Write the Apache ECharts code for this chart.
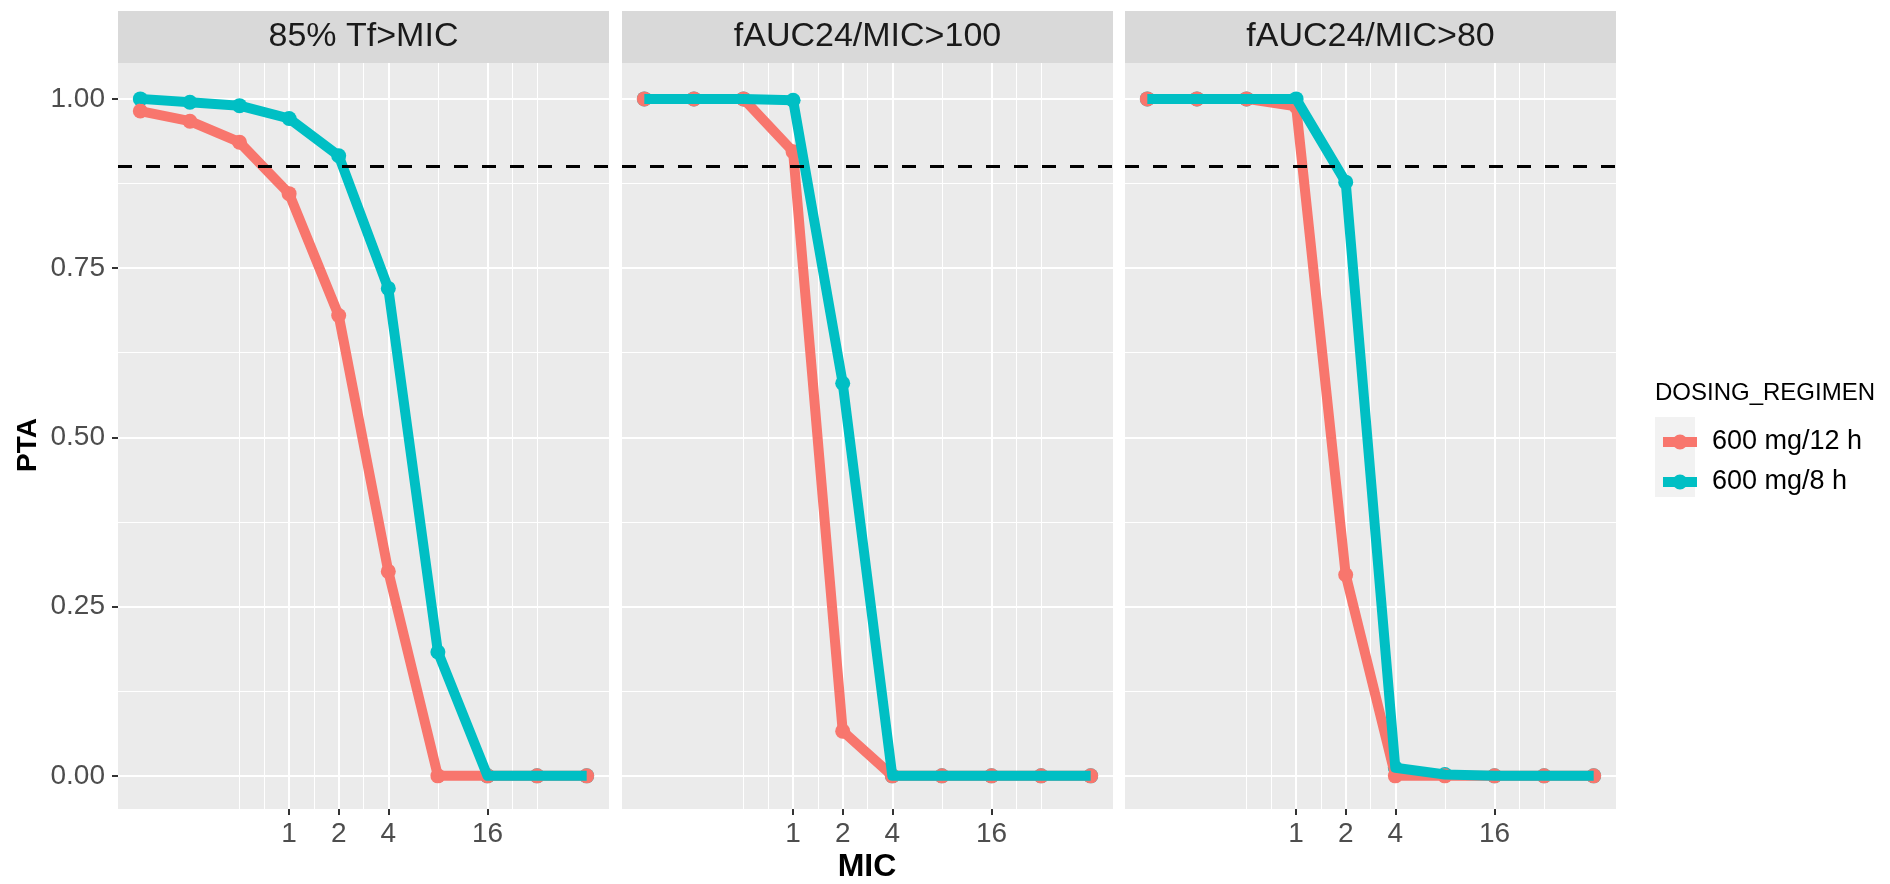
<!DOCTYPE html>
<html><head><meta charset="utf-8">
<script src="https://cdn.jsdelivr.net/npm/echarts@6/dist/echarts.min.js"></script>
<style>html,body{margin:0;padding:0;background:#fff}#c{width:1890px;height:884px}</style>
</head><body><div id="c"></div>
<script>
// ---- data ----
const mic = [0.125, 0.25, 0.5, 1, 2, 4, 8, 16, 32, 64];
const facets = ['85% Tf>MIC', 'fAUC24/MIC>100', 'fAUC24/MIC>80'];
const regimens = ['600 mg/12 h', '600 mg/8 h'];
const pta12_tf     = [0.982, 0.967, 0.936, 0.860, 0.680, 0.302, 0, 0, 0, 0];
const pta8_tf      = [1.000, 0.995, 0.990, 0.971, 0.916, 0.720, 0.183, 0, 0, 0];
const pta12_auc100 = [1, 1, 1, 0.922, 0.066, 0, 0, 0, 0, 0];
const pta8_auc100  = [1, 1, 1, 0.998, 0.580, 0, 0, 0, 0, 0];
const pta12_auc80  = [1, 1, 1, 0.989, 0.297, 0, 0, 0, 0, 0];
const pta8_auc80   = [1, 1, 1, 1.000, 0.877, 0.012, 0.002, 0, 0, 0];
const xBreaks = [1, 2, 4, 16];
const xMinorLog2 = [-1, -0.5, 0.5, 1.5, 3, 4.5, 5];
const yBreaks = [0, 0.25, 0.5, 0.75, 1];
const yMinor = [0.125, 0.375, 0.625, 0.875];
const target = 0.9;

// ---- layout / style ----
const FONT = '"Liberation Sans", Arial, sans-serif';
const RED = '#F8766D', TEAL = '#00BFC4';
const panelLeft = [118, 622, 1125];
const panelW = 491, panelTop = 63, panelH = 746;
const xMin = -3.45, xMax = 6.45, yMin = -0.049, yMax = 1.053;
const seriesData = [[pta12_tf, pta8_tf], [pta12_auc100, pta8_auc100], [pta12_auc80, pta8_auc80]];
const toPts = arr => arr.map((v, i) => [Math.log2(mic[i]), v]);

const grids = [], xAxes = [], yAxes = [], series = [], graphics = [];
facets.forEach((f, i) => {
  grids.push({left: panelLeft[i], top: panelTop, width: panelW, height: panelH,
    show: true, backgroundColor: '#EBEBEB', borderWidth: 0, containLabel: false});
  // major x
  xAxes.push({type: 'value', gridIndex: i, min: xMin, max: xMax, position: 'bottom',
    axisLine: {show: false, onZero: false},
    axisTick: {show: true, customValues: xBreaks.map(Math.log2), length: 6, lineStyle: {color: '#333333', width: 2}},
    axisLabel: {show: true, customValues: xBreaks.map(Math.log2), formatter: v => String(Math.round(Math.pow(2, v))),
      fontSize: 28, color: '#4D4D4D', fontFamily: FONT, margin: 11},
    splitLine: {show: true, lineStyle: {color: '#FFFFFF', width: 2}}});
  // minor x
  xAxes.push({type: 'value', gridIndex: i, min: xMin, max: xMax, position: 'bottom',
    axisLine: {show: false, onZero: false},
    axisTick: {show: false, customValues: xMinorLog2},
    axisLabel: {show: false, customValues: xMinorLog2},
    splitLine: {show: true, lineStyle: {color: '#FFFFFF', width: 1}}});
  // major y
  yAxes.push({type: 'value', gridIndex: i, min: yMin, max: yMax, position: 'left',
    axisLine: {show: false, onZero: false},
    axisTick: {show: i === 0, customValues: yBreaks, length: 6, lineStyle: {color: '#333333', width: 2}},
    axisLabel: {show: i === 0, customValues: yBreaks, formatter: v => v.toFixed(2),
      fontSize: 28, color: '#4D4D4D', fontFamily: FONT, margin: 13},
    splitLine: {show: true, lineStyle: {color: '#FFFFFF', width: 2}}});
  // minor y
  yAxes.push({type: 'value', gridIndex: i, min: yMin, max: yMax, position: 'left',
    axisLine: {show: false, onZero: false},
    axisTick: {show: false, customValues: yMinor},
    axisLabel: {show: false, customValues: yMinor},
    splitLine: {show: true, lineStyle: {color: '#FFFFFF', width: 1}}});

  const xi = i * 2, yi = i * 2;
  const [d12, d8] = seriesData[i];
  series.push({name: regimens[1], type: 'scatter', xAxisIndex: xi, yAxisIndex: yi, data: toPts(d8),
    symbolSize: 15, itemStyle: {color: TEAL, opacity: 1}, silent: true, z: 2});
  series.push({name: regimens[0], type: 'scatter', xAxisIndex: xi, yAxisIndex: yi, data: toPts(d12),
    symbolSize: 15, itemStyle: {color: RED, opacity: 1}, silent: true, z: 2});
  series.push({name: regimens[0], type: 'line', xAxisIndex: xi, yAxisIndex: yi, data: toPts(d12),
    showSymbol: false, lineStyle: {color: RED, width: 10, cap: 'butt', join: 'round'}, itemStyle: {color: RED}, silent: true, z: 3});
  series.push({name: regimens[1], type: 'line', xAxisIndex: xi, yAxisIndex: yi, data: toPts(d8),
    showSymbol: false, lineStyle: {color: TEAL, width: 10, cap: 'butt', join: 'round'}, itemStyle: {color: TEAL}, silent: true, z: 4,
    markLine: {silent: true, symbol: 'none', label: {show: false}, z: 5,
      lineStyle: {type: [14, 14], color: '#000000', width: 3},
      data: [{yAxis: target}]}});

  graphics.push({type: 'rect', left: panelLeft[i], top: 11, shape: {width: panelW, height: 52},
    style: {fill: '#D9D9D9'}, silent: true});
  graphics.push({type: 'text', x: panelLeft[i] + panelW / 2, y: 37,
    style: {text: f, font: '34px ' + FONT, fill: '#1A1A1A', textAlign: 'center', textVerticalAlign: 'middle'}, silent: true});
});

graphics.push({type: 'text', x: 28, y: 445, rotation: Math.PI / 2,
  style: {text: 'PTA', font: 'bold 28px ' + FONT, fill: '#000', textAlign: 'center', textVerticalAlign: 'middle'}});
graphics.push({type: 'text', x: 867, y: 867,
  style: {text: 'MIC', font: 'bold 32px ' + FONT, fill: '#000', textAlign: 'center', textVerticalAlign: 'middle'}});
graphics.push({type: 'text', x: 1655, y: 393,
  style: {text: 'DOSING_REGIMEN', font: '24px ' + FONT, fill: '#000', textAlign: 'left', textVerticalAlign: 'middle'}});
graphics.push({type: 'rect', left: 1655, top: 417, shape: {width: 40, height: 80}, style: {fill: '#F2F2F2'}, silent: true, z: -1});

const keyIcon = 'path://M0,2.5H34V12.5H0Z M9.5,7.5A7.5,7.5 0 1,1 24.5,7.5A7.5,7.5 0 1,1 9.5,7.5Z';

const chart = echarts.init(document.getElementById('c'), null, {renderer: 'canvas'});
chart.setOption({
  animation: false,
  backgroundColor: '#FFFFFF',
  grid: grids,
  xAxis: xAxes,
  yAxis: yAxes,
  legend: {orient: 'vertical', left: 1658, top: 422, itemWidth: 34, itemHeight: 15, itemGap: 10,
    selectedMode: false,
    data: regimens.map(r => ({name: r, icon: keyIcon})),
    textStyle: {fontSize: 27, lineHeight: 30, color: '#000', fontFamily: FONT, padding: [0, 0, 0, 10]}},
  graphic: graphics,
  series: series
});
</script></body></html>
